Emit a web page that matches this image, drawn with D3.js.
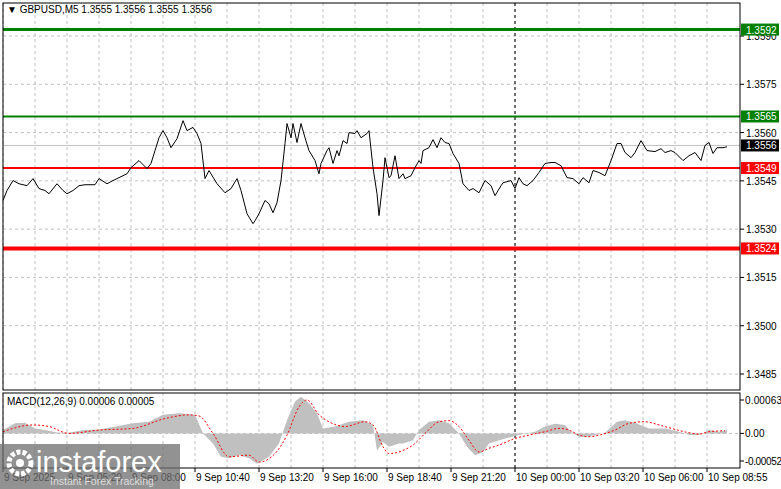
<!DOCTYPE html>
<html>
<head>
<meta charset="utf-8">
<script src="https://d3js.org/d3.v7.min.js"></script>
<style>
 body{margin:0;background:#fff;}
 text{font-family:"Liberation Sans",Arial,sans-serif;}
</style>
</head>
<body>
<script>
// price trace (bar index, close)
const priceBars = [0,2,5,8,12,15,18,21,23,27,30,32,35,38,41,46,48,52,55,58,62,64,68,72,74,76,78,80,82,84,87,90,92,95,97,99,101,103,107,111,114,117,119,122,125,126,128,131,133,135,137,139,141,142,144,145,147,149,151,153,156,158,159,162,163,165,167,168,170,172,173,176,177,179,182,183,185,187,188,190,191,193,194,196,198,200,201,204,206,208,209,210,213,215,217,219,221,223,225,228,230,233,235,238,241,244,246,249,250,254,256,258,260,262,265,268,271,274,276,279,282,285,288,290,293,295,298,301,304,307,309,311,314,316,319,322,326,329,331,334,336,340,343,346,349,351,353,355,357,360,362];
const closes = [1.35389,1.35420,1.35451,1.35441,1.35435,1.35457,1.35426,1.35420,1.35410,1.35441,1.35420,1.35410,1.35420,1.35435,1.35438,1.35438,1.35457,1.35441,1.35451,1.35460,1.35472,1.35491,1.35513,1.35488,1.35504,1.35544,1.35584,1.35606,1.35584,1.35553,1.35581,1.35637,1.35606,1.35616,1.35597,1.35566,1.35457,1.35482,1.35441,1.35413,1.35426,1.35457,1.35420,1.35348,1.35317,1.35326,1.35348,1.35389,1.35379,1.35351,1.35382,1.35451,1.35566,1.35628,1.35584,1.35628,1.35569,1.35628,1.35584,1.35544,1.35513,1.35472,1.35504,1.35544,1.35553,1.35504,1.35544,1.35528,1.35575,1.35566,1.35600,1.35597,1.35606,1.35584,1.35597,1.35606,1.35491,1.35410,1.35342,1.35451,1.35522,1.35460,1.35466,1.35528,1.35457,1.35472,1.35457,1.35466,1.35491,1.35513,1.35504,1.35544,1.35553,1.35578,1.35553,1.35584,1.35569,1.35566,1.35535,1.35504,1.35441,1.35420,1.35426,1.35413,1.35451,1.35435,1.35404,1.35435,1.35444,1.35451,1.35426,1.35460,1.35441,1.35435,1.35451,1.35476,1.35504,1.35507,1.35507,1.35497,1.35460,1.35457,1.35441,1.35460,1.35444,1.35482,1.35476,1.35466,1.35513,1.35566,1.35566,1.35538,1.35522,1.35538,1.35575,1.35544,1.35541,1.35550,1.35538,1.35544,1.35538,1.35513,1.35528,1.35538,1.35513,1.35560,1.35569,1.35535,1.35553,1.35553,1.35556];
const priceTicks = [1.3590,1.3575,1.3560,1.3545,1.3530,1.3515,1.3500,1.3485];
const levels = [
  {v:1.3592,c:"#008000",w:3},
  {v:1.3565,c:"#008000",w:2},
  {v:1.3549,c:"#ff0000",w:2},
  {v:1.3524,c:"#ff0000",w:4}
];
const bid = 1.3556;
// MACD (values in 1e-5)
const histBars = [0,6,11,16,21,27,33,40,48,65,73,80,88,96,100,105,109,113,118,123,127,133,138,142,146,149,153,157,160,166,173,180,185,187,190,193,198,200,205,208,213,218,223,228,232,236,240,243,251,258,266,271,276,281,284,288,292,296,301,307,311,316,323,331,338,343,348,353,358,362];
const histVals = [6.3,19,20,9.5,6.3,1.9,1.3,6.3,7.6,19,22,35,38,35,0,-19,-44,-47,-41,-47,-57,-44,-19,25,60,69,57,38,9.5,13,22,25,16,-32,-16,-25,-19,-19,-13,6.3,22,25,19,0,-25,-41,-35,-19,-9.5,-3.2,3.2,13,18,16,3.2,-6.3,-6.3,-3.2,1.3,22,25,20,9.5,9.5,3.2,-3.2,-3.2,6.3,3.2,6.3];
const sigBars = [0,15,23,33,48,65,81,93,98,105,113,123,128,136,142,148,152,158,163,171,181,185,190,193,198,200,205,211,218,223,228,233,238,243,248,256,263,271,278,283,288,293,298,306,313,321,328,336,343,348,353,361];
const sigVals = [3.2,16,13,0,6.3,9.5,28,35,33,0,-44,-41,-54,-38,-3.2,50,63,35,22,13,22,16,-25,-38,-35,-32,-22,0,22,24,13,-13,-35,-28,-22,-9.5,-3.2,3.2,9.5,6.3,-3.2,-6.3,-3.2,6.3,19,22,16,7.6,1.3,-1.3,3.2,5];
const timeBars = [0,32,64,96,128,160,192,224,256,288,320,352];
const timeLabels = ["9 Sep 2025","9 Sep 05:20","9 Sep 08:00","9 Sep 10:40","9 Sep 13:20","9 Sep 16:00","9 Sep 18:40","9 Sep 21:20","10 Sep 00:00","10 Sep 03:20","10 Sep 06:00","10 Sep 08:55"];
const macdTicks = [0.00063,0,-0.00052];
const daySep = 256;

const W=781,H=489, L=3, R=740, T=3, MB=390, MT=393, MBo=468, FS=10;
const svg = d3.select("body").append("svg").attr("width",W).attr("height",H);

const x = d3.scaleLinear().domain([0,368.5]).range([L,R]);
const y = d3.scaleLinear().domain([1.3590,1.3485]).range([36,374]);
const ym = d3.scaleLinear().domain([63,-52]).range([400,461]);

// grid
const g = svg.append("g").attr("stroke","#c0c0c0").attr("stroke-dasharray","3,3");
d3.range(0,368,16).forEach(b=>{
  g.append("line").attr("x1",x(b)).attr("x2",x(b)).attr("y1",T).attr("y2",MB);
  g.append("line").attr("x1",x(b)).attr("x2",x(b)).attr("y1",MT).attr("y2",MBo);
});
priceTicks.forEach(v=>g.append("line").attr("x1",L).attr("x2",R).attr("y1",y(v)).attr("y2",y(v)));
g.append("line").attr("x1",L).attr("x2",R).attr("y1",ym(0)).attr("y2",ym(0));

// bid line
svg.append("line").attr("x1",L).attr("x2",R).attr("y1",y(bid)).attr("y2",y(bid)).attr("stroke","#c0c0c0");

// day separator
[[T,MB],[MT,MBo]].forEach(([a,b])=>svg.append("line").attr("x1",x(daySep)).attr("x2",x(daySep))
  .attr("y1",a).attr("y2",b).attr("stroke","#000").attr("stroke-dasharray","3,3"));

// levels
levels.forEach(l=>svg.append("line").attr("x1",L).attr("x2",R).attr("y1",y(l.v)).attr("y2",y(l.v))
  .attr("stroke",l.c).attr("stroke-width",l.w));

// price
const pts = priceBars.map((b,i)=>[x(b),y(closes[i])]);
svg.append("path").attr("d",d3.line()(pts)).attr("fill","none").attr("stroke","#000").attr("stroke-width",1);

// MACD
const hp = histBars.map((b,i)=>[b,histVals[i]]);
svg.append("path").attr("d",d3.area().x(d=>x(d[0])).y0(ym(0)).y1(d=>ym(d[1]))(hp)).attr("fill","#c0c0c0");
const sp = sigBars.map((b,i)=>[x(b),ym(sigVals[i])]);
svg.append("path").attr("d",d3.line().curve(d3.curveMonotoneX)(sp)).attr("fill","none")
  .attr("stroke","#ff0000").attr("stroke-width",1).attr("stroke-dasharray","2,2");

// frames
svg.append("rect").attr("x",L).attr("y",T).attr("width",R-L).attr("height",MB-T).attr("fill","none").attr("stroke","#000");
svg.append("rect").attr("x",L).attr("y",MT).attr("width",R-L).attr("height",MBo-MT).attr("fill","none").attr("stroke","#000");

// right axis
const ax = svg.append("g").attr("font-size",FS).attr("fill","#000");
priceTicks.forEach(v=>{
  svg.append("line").attr("x1",R).attr("x2",R+4).attr("y1",y(v)).attr("y2",y(v)).attr("stroke","#000");
  ax.append("text").attr("x",R+6).attr("y",y(v)+4).text(v.toFixed(4));
});
macdTicks.forEach(v=>{
  svg.append("line").attr("x1",R).attr("x2",R+4).attr("y1",ym(v*1e5)).attr("y2",ym(v*1e5)).attr("stroke","#000");
  ax.append("text").attr("x",R+5).attr("y",ym(v*1e5)+4).attr("textLength",v===0?null:37).text(v===0?"0.00":v.toFixed(5));
});
function tag(v,c){
  svg.append("rect").attr("x",R+1).attr("y",y(v)-6).attr("width",38).attr("height",12).attr("fill",c);
  svg.append("text").attr("x",R+6).attr("y",y(v)+4).attr("font-size",FS).attr("fill","#fff").text(v.toFixed(4));
}
levels.forEach(l=>tag(l.v,l.c));
tag(bid,"#000");

// time axis
timeBars.forEach((b,i)=>{
  svg.append("line").attr("x1",x(b)).attr("x2",x(b)).attr("y1",MBo).attr("y2",MBo+4).attr("stroke","#000");
  svg.append("text").attr("x",x(b)+1).attr("y",481).attr("font-size",FS).text(timeLabels[i]);
});

// headers
svg.append("text").attr("x",7).attr("y",13).attr("font-size",FS).text("\u25BC GBPUSD,M5  1.3555 1.3556 1.3555 1.3556");
svg.append("text").attr("x",7).attr("y",405).attr("font-size",FS).text("MACD(12,26,9) 0.00006 0.00005");

// watermark
const wm = svg.append("g");
wm.append("rect").attr("x",0).attr("y",444).attr("width",180).attr("height",45).attr("fill","#6e6e6e").attr("opacity",0.75);
wm.append("circle").attr("cx",20).attr("cy",463).attr("r",11).attr("fill","none").attr("stroke","#fff").attr("stroke-width",5).attr("stroke-dasharray","4,2");
wm.append("circle").attr("cx",20).attr("cy",463).attr("r",4).attr("fill","#fff");
wm.append("text").attr("x",36).attr("y",472).attr("font-size",29).attr("fill","#fff").text("instaforex");
wm.append("text").attr("x",50).attr("y",485).attr("font-size",10.5).attr("fill","#ddd").text("Instant Forex Tracking");
</script>
</body>
</html>
